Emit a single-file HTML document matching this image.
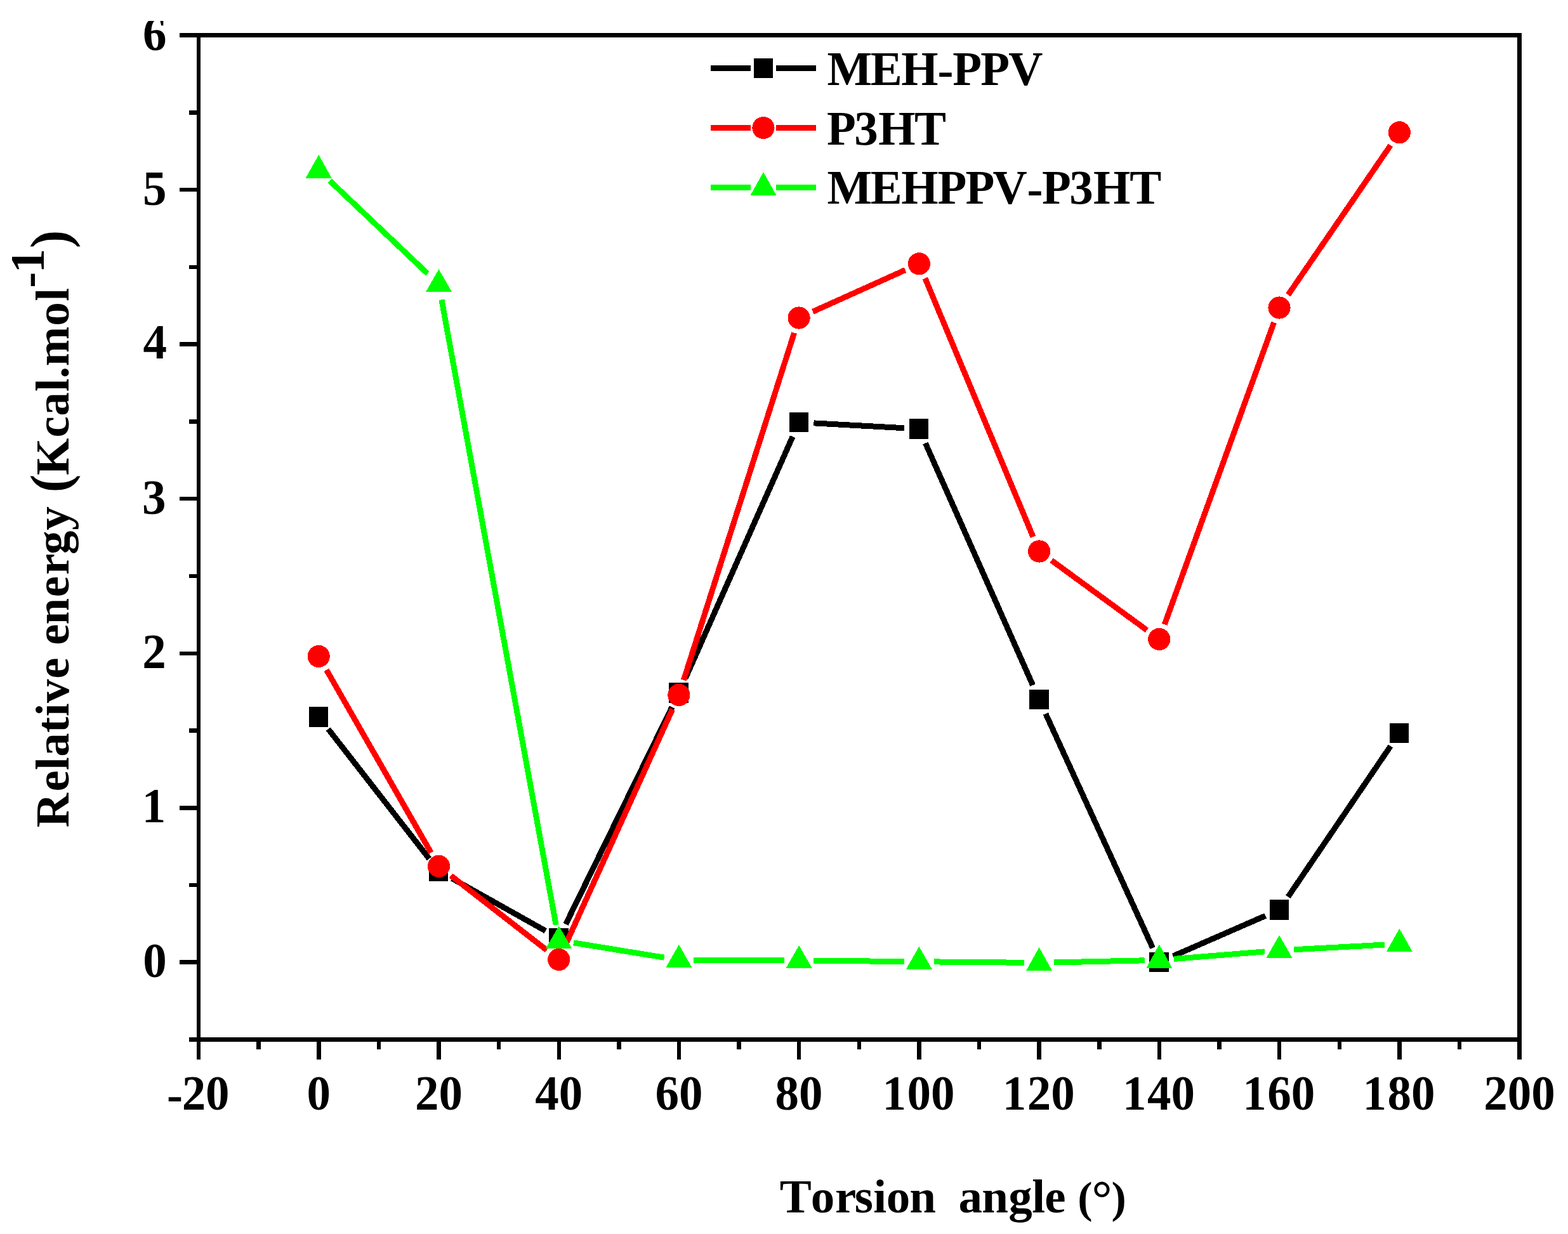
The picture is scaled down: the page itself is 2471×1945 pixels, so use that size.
<!DOCTYPE html>
<html lang="en"><head><meta charset="utf-8"><title>Relative energy vs torsion angle</title>
<style>html,body{margin:0;padding:0;background:#fff}body{width:2471px;height:1945px;overflow:hidden}svg{display:block}text{font-family:"Liberation Serif","DejaVu Serif",serif;font-weight:bold;font-size:75px;fill:#000;font-kerning:none;white-space:pre}</style>
</head><body>
<svg width="2471" height="1945" viewBox="0 0 2471 1945">
<rect x="0" y="0" width="2471" height="1945" fill="#fff"/>
<g shape-rendering="crispEdges">
<g fill="#000">
<rect x="310" y="52" width="6" height="1590"/>
<rect x="2391" y="52" width="7" height="1590"/>
<rect x="310" y="52" width="2088" height="7"/>
<rect x="310" y="1635" width="2088" height="7"/>
<rect x="310" y="1642" width="6" height="28"/>
<rect x="404" y="1642" width="7" height="12"/>
<rect x="499" y="1642" width="7" height="28"/>
<rect x="594" y="1642" width="6" height="12"/>
<rect x="688" y="1642" width="7" height="28"/>
<rect x="783" y="1642" width="6" height="12"/>
<rect x="878" y="1642" width="6" height="28"/>
<rect x="972" y="1642" width="7" height="12"/>
<rect x="1067" y="1642" width="6" height="28"/>
<rect x="1161" y="1642" width="7" height="12"/>
<rect x="1256" y="1642" width="6" height="28"/>
<rect x="1351" y="1642" width="6" height="12"/>
<rect x="1445" y="1642" width="7" height="28"/>
<rect x="1540" y="1642" width="6" height="12"/>
<rect x="1634" y="1642" width="7" height="28"/>
<rect x="1729" y="1642" width="7" height="12"/>
<rect x="1824" y="1642" width="6" height="28"/>
<rect x="1918" y="1642" width="7" height="12"/>
<rect x="2013" y="1642" width="6" height="28"/>
<rect x="2108" y="1642" width="6" height="12"/>
<rect x="2202" y="1642" width="7" height="28"/>
<rect x="2297" y="1642" width="6" height="12"/>
<rect x="2391" y="1642" width="7" height="28"/>
<rect x="298" y="1635" width="12" height="7"/>
<rect x="283" y="1513" width="27" height="7"/>
<rect x="298" y="1392" width="12" height="6"/>
<rect x="283" y="1270" width="27" height="7"/>
<rect x="298" y="1148" width="12" height="7"/>
<rect x="283" y="1027" width="27" height="6"/>
<rect x="298" y="905" width="12" height="6"/>
<rect x="283" y="783" width="27" height="6"/>
<rect x="298" y="661" width="12" height="7"/>
<rect x="283" y="539" width="27" height="7"/>
<rect x="298" y="418" width="12" height="6"/>
<rect x="283" y="296" width="27" height="6"/>
<rect x="298" y="174" width="12" height="7"/>
<rect x="283" y="52" width="27" height="7"/>
</g>
<g stroke="#000" stroke-width="9" fill="none"><line x1="517.26" y1="1149.10" x2="676.42" y2="1353.50"/><line x1="712.37" y1="1384.54" x2="859.77" y2="1467.26"/><line x1="891.51" y1="1456.87" x2="1059.08" y2="1114.33"/><line x1="1079.91" y1="1069.66" x2="1249.14" y2="688.14"/><line x1="1282.39" y1="666.88" x2="1425.11" y2="674.72"/><line x1="1458.37" y1="698.54" x2="1627.59" y2="1079.96"/><line x1="1647.84" y1="1124.92" x2="1816.57" y2="1494.08"/><line x1="1848.67" y1="1506.96" x2="1994.20" y2="1443.44"/><line x1="2029.83" y1="1413.62" x2="2191.48" y2="1175.88"/></g>
<g fill="#000"><rect x="487" y="1114" width="30" height="32"/><rect x="676" y="1357" width="30" height="32"/><rect x="865" y="1463" width="31" height="32"/><rect x="1054" y="1076" width="31" height="32"/><rect x="1244" y="650" width="30" height="31"/><rect x="1433" y="660" width="30" height="32"/><rect x="1622" y="1087" width="31" height="31"/><rect x="1811" y="1501" width="31" height="31"/><rect x="2001" y="1418" width="30" height="32"/><rect x="2190" y="1140" width="30" height="31"/></g>
<g stroke="#f00" stroke-width="9" fill="none"><line x1="514.44" y1="1055.84" x2="679.25" y2="1343.96"/><line x1="710.55" y1="1380.14" x2="861.59" y2="1497.56"/><line x1="890.87" y1="1489.95" x2="1059.72" y2="1117.85"/><line x1="1077.41" y1="1071.84" x2="1251.64" y2="524.56"/><line x1="1280.89" y1="491.21" x2="1426.61" y2="425.59"/><line x1="1457.87" y1="438.57" x2="1628.08" y2="846.23"/><line x1="1657.07" y1="883.26" x2="1807.33" y2="993.24"/><line x1="1835.23" y1="984.27" x2="2007.63" y2="508.23"/><line x1="2029.90" y1="464.77" x2="2191.41" y2="229.03"/></g>
<g fill="#f00"><circle cx="502.2" cy="1034.5" r="17.6"/><circle cx="691.5" cy="1365.3" r="17.6"/><circle cx="880.7" cy="1512.4" r="17.6"/><circle cx="1069.9" cy="1095.4" r="17.6"/><circle cx="1259.1" cy="501.0" r="17.6"/><circle cx="1448.4" cy="415.8" r="17.6"/><circle cx="1637.6" cy="869.0" r="17.6"/><circle cx="1826.8" cy="1007.5" r="17.6"/><circle cx="2016.0" cy="485.0" r="17.6"/><circle cx="2205.3" cy="208.8" r="17.6"/></g>
<g stroke="#0f0" stroke-width="9" fill="none"><line x1="519.85" y1="285.03" x2="673.83" y2="431.27"/><line x1="695.91" y1="472.37" x2="876.22" y2="1457.83"/><line x1="903.83" y1="1485.97" x2="1046.76" y2="1509.23"/><line x1="1093.12" y1="1513.12" x2="1235.93" y2="1513.88"/><line x1="1282.35" y1="1514.21" x2="1425.15" y2="1515.49"/><line x1="1471.58" y1="1515.92" x2="1614.38" y2="1517.28"/><line x1="1660.82" y1="1516.98" x2="1803.59" y2="1513.82"/><line x1="1850.07" y1="1511.42" x2="1992.79" y2="1499.88"/><line x1="2039.30" y1="1496.75" x2="2182.02" y2="1489.05"/></g>
<g fill="#0f0"><polygon points="502.2,243.9 481.7,280.7 522.7,280.7"/><polygon points="691.5,424.3 671.0,459.9 712.0,459.9"/><polygon points="880.7,1459.2 860.2,1494.7 901.2,1494.7"/><polygon points="1069.9,1488.8 1049.4,1525.0 1090.4,1525.0"/><polygon points="1259.1,1490.0 1238.6,1525.9 1279.6,1525.9"/><polygon points="1448.4,1491.8 1427.9,1527.7 1468.9,1527.7"/><polygon points="1637.6,1493.1 1617.1,1530.0 1658.1,1530.0"/><polygon points="1826.8,1488.6 1806.3,1526.0 1847.3,1526.0"/><polygon points="2016.0,1474.0 1995.5,1510.0 2036.5,1510.0"/><polygon points="2205.3,1463.8 2184.8,1499.8 2225.8,1499.8"/></g>
<g fill="#000">
<rect x="1120" y="103" width="63" height="9"/>
<rect x="1223" y="103" width="63" height="9"/>
<rect x="1188" y="92" width="30" height="31"/>
</g>
<g fill="#f00">
<rect x="1120" y="197" width="63" height="9"/>
<rect x="1223" y="197" width="63" height="9"/>
<circle cx="1203.0" cy="201.5" r="17.6"/>
</g>
<g fill="#0f0">
<rect x="1120" y="291" width="63" height="9"/>
<rect x="1223" y="291" width="63" height="9"/>
<polygon points="1203.0,271.0 1182.5,308.0 1223.5,308.0"/>
</g>
</g>
<g>
<text transform="translate(0,1749) scale(1,1.03)" x="263 286.7 324" y="0" dy="1.6 -1.6 0">-20</text>
<text transform="translate(0,1749) scale(1,1.03)" x="483.5" y="0">0</text>
<text transform="translate(0,1749) scale(1,1.03)" x="654 691.5" y="0">20</text>
<text transform="translate(0,1749) scale(1,1.03)" x="843.2 880.7" y="0">40</text>
<text transform="translate(0,1749) scale(1,1.03)" x="1032.4 1069.9" y="0">60</text>
<text transform="translate(0,1749) scale(1,1.03)" x="1221.6 1259.1" y="0">80</text>
<text transform="translate(0,1749) scale(1,1.03)" x="1390.6 1429.6 1467.1" y="0">100</text>
<text transform="translate(0,1749) scale(1,1.03)" x="1579.8 1618.8 1656.3" y="0">120</text>
<text transform="translate(0,1749) scale(1,1.03)" x="1769.1 1808.1 1845.6" y="0">140</text>
<text transform="translate(0,1749) scale(1,1.03)" x="1958.3 1997.3 2034.8" y="0">160</text>
<text transform="translate(0,1749) scale(1,1.03)" x="2147.5 2186.5 2224" y="0">180</text>
<text transform="translate(0,1749) scale(1,1.03)" x="2338.2 2375.8 2413.2" y="0">200</text>
</g>
<defs><clipPath id="c"><rect x="0" y="33" width="2471" height="1945"/></clipPath></defs>
<g clip-path="url(#c)">
<text transform="translate(0,1539.5) scale(1,1.03)" x="225.2" y="0">0</text>
<text transform="translate(0,1296) scale(1,1.03)" x="223.7" y="0">1</text>
<text transform="translate(0,1053) scale(1,1.03)" x="224.2" y="0">2</text>
<text transform="translate(0,809.5) scale(1,1.03)" x="224.1" y="0">3</text>
<text transform="translate(0,565) scale(1,1.03)" x="225.4" y="0">4</text>
<text transform="translate(0,322.5) scale(1,1.03)" x="225.1" y="0">5</text>
<text transform="translate(0,78.5) scale(1,1.03)" x="225.1" y="0">6</text>
</g>
<text transform="translate(0,134) scale(1,1.02)" x="1303.6 1371.8 1420.3 1477.6 1501.3 1545.3 1589.3" y="0" dy="0 0 0 1.6 -1.6 0 0">MEH-PPV</text>
<text transform="translate(0,228) scale(1,1.02)" x="1303 1346.2 1384.3 1441" y="0">P3HT</text>
<text transform="translate(0,321) scale(1,1.02)" x="1303.6 1371.8 1420.3 1477.5 1521.5 1564.6 1618.5 1642.1 1685.2 1723.1 1780.3" y="0" dy="0 0 0 0 0 0 1.6 -1.6 0 0 0">MEHPPV-P3HT</text>
<text x="1228.8 1277.8 1316 1346.8 1376.3 1396.7 1433.2 1473.6 1491.8 1510.5 1547.2 1589.2 1626.3 1646.2 1678.5" y="1911">Torsion  angle <tspan font-size="70" x="1698.3">(</tspan><tspan font-size="80" x="1720.6" dy="5.1">°</tspan><tspan font-size="70" x="1751.4" dy="-5.1">)</tspan></text>
<text transform="rotate(-90)" x="-1304.2 -1247.5 -1214.1 -1192.8 -1155.1 -1129.3 -1108.1 -1069.8 -1037.5 -1016.7 -984.4 -941.3 -905.9 -873.9 -835.7 -799.3" y="108">Relative energy <tspan font-size="86" x="-776.3">(</tspan><tspan x="-749.1 -689.5 -655.7 -617.2 -596.6 -577.3 -513.8 -474.8">Kcal.mol</tspan><tspan x="-453.8" y="69">-</tspan><tspan font-size="77" x="-430.5" y="69">1</tspan><tspan font-size="86" x="-391.2" y="108">)</tspan></text>
</svg>
</body></html>
